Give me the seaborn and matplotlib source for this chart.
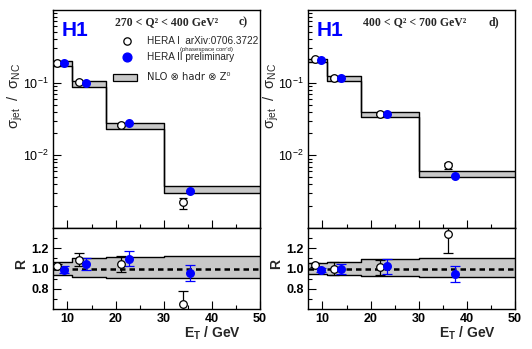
import numpy as np
import pandas as pd
import matplotlib
matplotlib.use("Agg")
import matplotlib.pyplot as plt
import seaborn as sns

sns.set_theme(style="white")
plt.rcParams['font.family'] = ['Liberation Sans', 'DejaVu Sans']
plt.rcParams['mathtext.fontset'] = 'custom'
plt.rcParams['mathtext.rm'] = 'Liberation Sans:bold'
plt.rcParams['mathtext.it'] = 'Liberation Sans:bold'
plt.rcParams['mathtext.bf'] = 'Liberation Sans:bold'
plt.rcParams['mathtext.default'] = 'regular'

# ---------------- data ----------------
bin_edges = [7, 11, 18, 30, 50]

# panel c) 270 < Q2 < 400
c_nlo_hi = [0.199, 0.105, 0.0277, 0.00379]
c_nlo_lo = [0.171, 0.0865, 0.0229, 0.00307]
c_h1_x = [7.8, 12.3, 21.2, 34.0]
c_h1_y = [0.188, 0.103, 0.0262, 0.00226]
c_h1_elo = [0.005, 0.003, 0.0008, 0.00044]
c_h1_ehi = [0.005, 0.003, 0.0008, 0.00033]
c_h2_x = [9.35, 13.9, 22.8, 35.5]
c_h2_y = [0.185, 0.100, 0.0277, 0.00327]
c_r_hi = [1.066, 1.10, 1.115, 1.125]
c_r_lo = [0.931, 0.92, 0.905, 0.905]
c_h1_r = [1.02, 1.085, 1.045, 0.645]
c_h1_rerr = [0.02, 0.065, 0.075, 0.13]
c_h2_r = [0.99, 1.045, 1.095, 0.957]
c_h2_rerr = [0.03, 0.06, 0.075, 0.08]

# panel d) 400 < Q2 < 700
d_nlo_hi = [0.210, 0.125, 0.0392, 0.0061]
d_nlo_lo = [0.191, 0.1066, 0.0334, 0.0050]
d_h1_x = [8.5, 12.5, 22.0, 36.0]
d_h1_y = [0.214, 0.117, 0.0371, 0.00738]
d_h1_elo = [0.005, 0.003, 0.001, 0.00088]
d_h1_ehi = [0.005, 0.003, 0.001, 0.00057]
d_h2_x = [9.8, 13.95, 23.4, 37.6]
d_h2_y = [0.203, 0.116, 0.0371, 0.00521]
d_r_hi = [1.055, 1.065, 1.09, 1.105]
d_r_lo = [0.95, 0.94, 0.925, 0.92]
d_h1_r = [1.03, 1.0, 1.01, 1.34]
d_h1_rerr = [0.02, 0.06, 0.075, 0.185]
d_h2_r = [0.985, 0.995, 1.02, 0.945]
d_h2_rerr = [0.02, 0.05, 0.075, 0.08]

x_ticks = [10, 20, 30, 40, 50]
r_ticks = [0.8, 1.0, 1.2]

panels = [
    dict(title="270 < Q² < 400 GeV²", tag="c)", tx=0.30, tagx=0.918, hi=c_nlo_hi, lo=c_nlo_lo,
         h1x=c_h1_x, h1y=c_h1_y, h1elo=c_h1_elo, h1ehi=c_h1_ehi, h2x=c_h2_x, h2y=c_h2_y,
         rhi=c_r_hi, rlo=c_r_lo, h1r=c_h1_r, h1re=c_h1_rerr, h2r=c_h2_r, h2re=c_h2_rerr,
         legend=True, left=53 / 532, ylx=15 / 532),
    dict(title="400 < Q² < 700 GeV²", tag="d)", tx=0.266, tagx=0.90, hi=d_nlo_hi, lo=d_nlo_lo,
         h1x=d_h1_x, h1y=d_h1_y, h1elo=d_h1_elo, h1ehi=d_h1_ehi, h2x=d_h2_x, h2y=d_h2_y,
         rhi=d_r_hi, rlo=d_r_lo, h1r=d_h1_r, h1re=d_h1_rerr, h2r=d_h2_r, h2re=d_h2_rerr,
         legend=False, left=308 / 532, ylx=271 / 532),
]

BLUE = (0, 0, 1)
GRAY = "#c8c8c8"
W, H = 532, 349

fig = plt.figure(figsize=(W / 100, H / 100), dpi=100)
fig.patch.set_facecolor("white")


def step_vals(vals):
    return list(vals) + [vals[-1]]


def style_axis(ax):
    for s in ax.spines.values():
        s.set_color("black")
        s.set_linewidth(1.0)
        s.set_visible(True)
    ax.tick_params(which="both", direction="in", top=False, right=False,
                   left=True, bottom=True, colors="black", labelsize=8, pad=3)
    ax.tick_params(which="major", length=6, width=0.8)
    ax.tick_params(which="minor", length=3, width=0.8)
    ax.grid(False)
    ax.set_facecolor("white")


for p in panels:
    axw = 207 / W
    ax_top = fig.add_axes([p["left"], 1 - 228 / H, axw, 218 / H])
    ax_bot = fig.add_axes([p["left"], 1 - 309 / H, axw, 81 / H])

    # ---- top panel ----
    band = pd.DataFrame({"x": bin_edges, "hi": step_vals(p["hi"]), "lo": step_vals(p["lo"])})
    ax_top.fill_between(band["x"], band["lo"], band["hi"], step="post", color=GRAY, lw=0)
    sns.lineplot(data=band, x="x", y="hi", drawstyle="steps-post", color="black", lw=1.0,
                 ax=ax_top, estimator=None, sort=False)
    sns.lineplot(data=band, x="x", y="lo", drawstyle="steps-post", color="black", lw=1.0,
                 ax=ax_top, estimator=None, sort=False)
    ax_top.errorbar(p["h1x"], p["h1y"], yerr=[p["h1elo"], p["h1ehi"]], fmt="none",
                    ecolor="black", elinewidth=0.9, capsize=3, capthick=0.9, zorder=4)
    sns.scatterplot(x=p["h1x"], y=p["h1y"], marker="o", s=30, facecolor="white",
                    edgecolor="black", linewidth=0.9, ax=ax_top, zorder=5)
    sns.scatterplot(x=p["h2x"], y=p["h2y"], marker="o", s=42, color=BLUE,
                    edgecolor=BLUE, linewidth=0, ax=ax_top, zorder=6)
    ax_top.set_yscale("log")
    ax_top.set_xlim(7, 50)
    ax_top.set_ylim(1e-3, 1.0)
    style_axis(ax_top)
    ax_top.set_xticks(x_ticks)
    ax_top.set_xticks([15, 25, 35, 45], minor=True)
    ax_top.set_yticks([1e-2, 1e-1])
    ax_top.yaxis.set_minor_locator(matplotlib.ticker.LogLocator(base=10, subs=np.arange(2, 10)))
    ax_top.yaxis.set_minor_formatter(matplotlib.ticker.NullFormatter())
    ax_top.set_yticklabels([r"$10^{-2}$", r"$10^{-1}$"], fontsize=9)
    ax_top.tick_params(axis="x", labelbottom=False)
    ax_top.set_xlabel("")
    ax_top.set_ylabel("")

    ax_top.text(0.04, 0.905, "H1", transform=ax_top.transAxes, color=BLUE,
                fontsize=15, fontweight="bold", ha="left", va="center")
    ax_top.text(p["tx"], 0.945, p["title"], transform=ax_top.transAxes,
                fontsize=8.5, fontweight="bold", family="Liberation Serif", ha="left", va="center")
    ax_top.text(p["tagx"], 0.945, p["tag"], transform=ax_top.transAxes,
                fontsize=8.5, fontweight="bold", family="Liberation Serif", ha="center", va="center")
    fig.text(p["ylx"], 1 - 96 / H, r"$\sigma_{jet}$  /  $\sigma_{NC}$",
             rotation=90, ha="center", va="center", fontsize=10.5)

    if p["legend"]:
        lx = 127
        ax_top.scatter([7 + (lx - 53) / 4.814], [10 ** (-(41 - 10) / 72.7)], marker="o", s=28,
                       facecolor="white", edgecolor="black", linewidth=0.9, zorder=5)
        ax_top.scatter([7 + (lx - 53) / 4.814], [10 ** (-(57 - 10) / 72.7)], marker="o", s=40,
                       color=BLUE, zorder=5)
        tx = (147 - 53) / 207
        ax_top.text(tx, 1 - (41 - 10) / 218, "HERA I  arXiv:0706.3722", transform=ax_top.transAxes,
                    fontsize=7.2, ha="left", va="center")
        ax_top.text(0.615, 1 - (49.5 - 10) / 218, "(phasespace corr'd)", transform=ax_top.transAxes,
                    fontsize=4.3, ha="left", va="center")
        ax_top.text(tx, 1 - (57 - 10) / 218, "HERA II preliminary", transform=ax_top.transAxes,
                    fontsize=7.2, ha="left", va="center")
        ax_top.add_patch(plt.Rectangle(((113 - 53) / 207, 1 - (80.5 - 10) / 218), 24 / 207, 7 / 218,
                                       transform=ax_top.transAxes, facecolor=GRAY,
                                       edgecolor="black", lw=0.9, zorder=5))
        ax_top.text(tx, 1 - (77 - 10) / 218, "NLO ⊗ hadr ⊗ Z⁰", transform=ax_top.transAxes,
                    fontsize=7.2, ha="left", va="center", family=["DejaVu Sans"])

    # ---- ratio panel ----
    rband = pd.DataFrame({"x": bin_edges, "hi": step_vals(p["rhi"]), "lo": step_vals(p["rlo"])})
    ax_bot.fill_between(rband["x"], rband["lo"], rband["hi"], step="post", color=GRAY, lw=0)
    sns.lineplot(data=rband, x="x", y="hi", drawstyle="steps-post", color="black", lw=1.0,
                 ax=ax_bot, estimator=None, sort=False)
    sns.lineplot(data=rband, x="x", y="lo", drawstyle="steps-post", color="black", lw=1.0,
                 ax=ax_bot, estimator=None, sort=False)
    ax_bot.axhline(1.0, color="black", lw=1.8, ls=(0, (2.2, 1.6)), zorder=3)
    ax_bot.errorbar(p["h1x"], p["h1r"], yerr=p["h1re"], fmt="none", ecolor="black",
                    elinewidth=0.9, capsize=3.5, capthick=0.9, zorder=4)
    ax_bot.errorbar(p["h2x"], p["h2r"], yerr=p["h2re"], fmt="none", ecolor=BLUE,
                    elinewidth=0.9, capsize=3.5, capthick=0.9, zorder=4)
    sns.scatterplot(x=p["h1x"], y=p["h1r"], marker="o", s=30, facecolor="white",
                    edgecolor="black", linewidth=0.9, ax=ax_bot, zorder=5)
    sns.scatterplot(x=p["h2x"], y=p["h2r"], marker="o", s=42, color=BLUE,
                    edgecolor=BLUE, linewidth=0, ax=ax_bot, zorder=6)
    ax_bot.set_xlim(7, 50)
    ax_bot.set_ylim(0.6, 1.4)
    style_axis(ax_bot)
    ax_bot.set_xticks(x_ticks)
    ax_bot.set_xticks([15, 25, 35, 45], minor=True)
    ax_bot.set_xticklabels([str(t) for t in x_ticks], fontsize=9, fontweight="bold")
    ax_bot.set_yticks(r_ticks)
    ax_bot.set_yticks([0.7, 0.9, 1.1, 1.3], minor=True)
    ax_bot.set_yticklabels([f"{t:.1f}" for t in r_ticks], fontsize=9, fontweight="bold")
    ax_bot.set_xlabel(r"E$_{T}$ / GeV", fontsize=10, fontweight="bold")
    ax_bot.xaxis.set_label_coords(0.77, -0.19)
    ax_bot.set_ylabel("R", fontsize=10, fontweight="bold")
    ax_bot.yaxis.set_label_coords(-0.12, 0.55)

fig.savefig("out.png", dpi=100, facecolor="white")
